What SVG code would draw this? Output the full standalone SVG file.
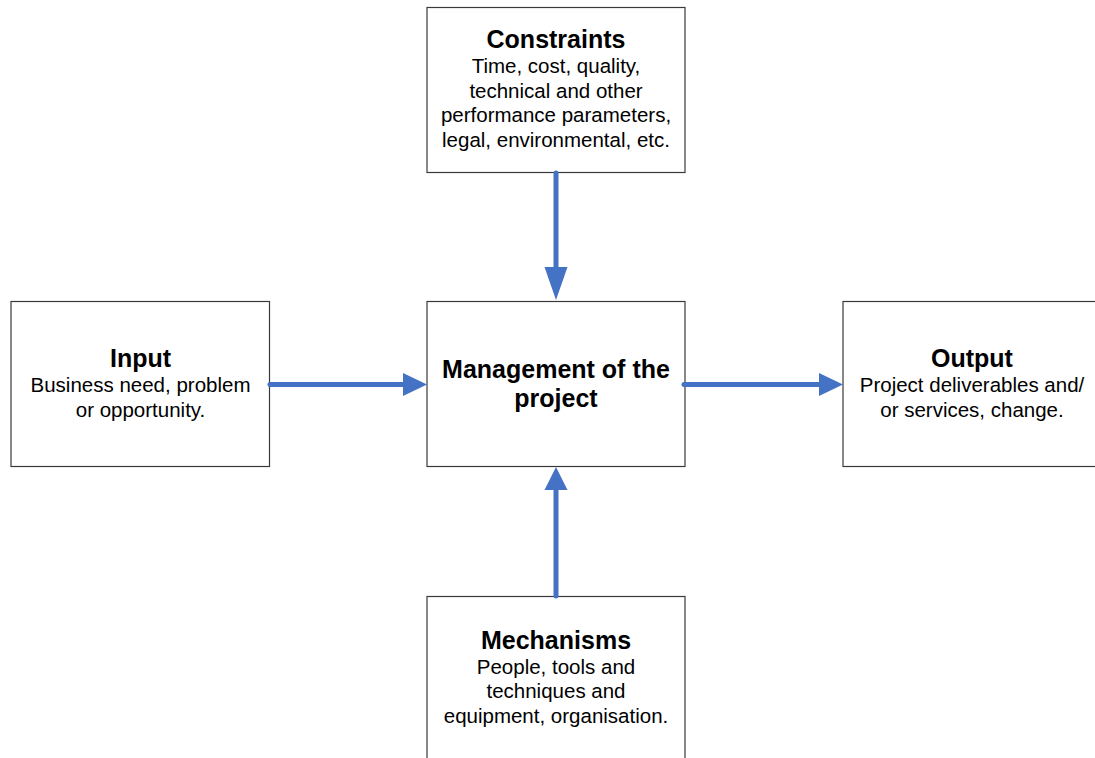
<svg xmlns="http://www.w3.org/2000/svg" width="1095" height="758" viewBox="0 0 1095 758">
  <style>
    .box { fill: #ffffff; stroke: #3a3a3a; stroke-width: 1.2; }
    .title { font-family: "Liberation Sans", Arial, sans-serif; font-weight: bold; font-size: 25px; fill: #000; text-anchor: middle; }
    .body { font-family: "Liberation Sans", Arial, sans-serif; font-size: 20.5px; fill: #000; text-anchor: middle; }
    .flow { stroke: #4472C4; stroke-width: 5; stroke-linecap: round; fill: none; }
    .head { fill: #4472C4; }
  </style>
  <rect width="1095" height="758" fill="#ffffff"/>

  <g id="constraints">
    <rect class="box" x="427" y="7.5" width="258" height="165"/>
    <text class="title" x="556" y="48">Constraints</text>
    <text class="body" x="556" y="73">Time, cost, quality,</text>
    <text class="body" x="556" y="97.5">technical and other</text>
    <text class="body" x="556" y="122">performance parameters,</text>
    <text class="body" x="556" y="146.5">legal, environmental, etc.</text>
  </g>

  <g id="input">
    <rect class="box" x="11" y="301.5" width="258.5" height="165"/>
    <text class="title" x="140.5" y="367">Input</text>
    <text class="body" x="140.5" y="392">Business need, problem</text>
    <text class="body" x="140.5" y="416.5">or opportunity.</text>
  </g>

  <g id="management">
    <rect class="box" x="427" y="301.5" width="258" height="165"/>
    <text class="title" x="556" y="378">Management of the</text>
    <text class="title" x="556" y="406.5">project</text>
  </g>

  <g id="output">
    <rect class="box" x="843" y="301.5" width="260" height="165"/>
    <text class="title" x="972" y="367">Output</text>
    <text class="body" x="972" y="392">Project deliverables and/</text>
    <text class="body" x="972" y="416.5">or services, change.</text>
  </g>

  <g id="mechanisms">
    <rect class="box" x="427" y="596.5" width="258" height="170"/>
    <text class="title" x="556" y="648.5">Mechanisms</text>
    <text class="body" x="556" y="673.5">People, tools and</text>
    <text class="body" x="556" y="698">techniques and</text>
    <text class="body" x="556" y="722.5">equipment, organisation.</text>
  </g>

  <g id="connectors">
    <!-- constraints down into management -->
    <line class="flow" x1="556" y1="173" x2="556" y2="268"/>
    <polygon class="head" points="544.5,267 567.5,267 556,300"/>
    <!-- input into management -->
    <line class="flow" x1="270" y1="384.5" x2="404" y2="384.5"/>
    <polygon class="head" points="403,373 403,396 427,384.5"/>
    <!-- management out to output -->
    <line class="flow" x1="684" y1="384.5" x2="820" y2="384.5"/>
    <polygon class="head" points="819,373 819,396 843,384.5"/>
    <!-- mechanisms up into management -->
    <line class="flow" x1="556" y1="596" x2="556" y2="490"/>
    <polygon class="head" points="544.5,490 567.5,490 556,467"/>
  </g>
</svg>
